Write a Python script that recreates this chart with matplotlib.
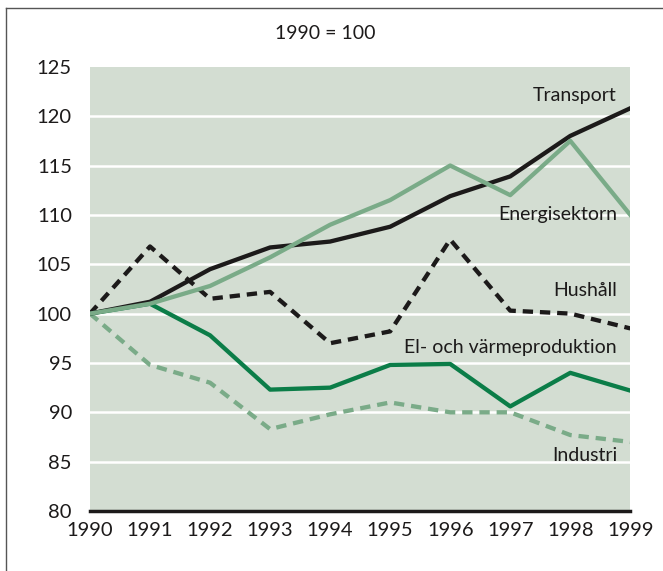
import matplotlib.pyplot as plt
from matplotlib.lines import Line2D

BG = "#d3ddd2"
BLACK = "#1c1a1a"
DARK_GREEN = "#0b7d48"
LIGHT_GREEN = "#7aab88"

years = [1990, 1991, 1992, 1993, 1994, 1995, 1996, 1997, 1998, 1999]
transport = [100, 101.2, 104.5, 106.7, 107.3, 108.8, 111.9, 113.9, 118.0, 120.8]
energisektorn = [100, 101.0, 102.8, 105.7, 109.0, 111.5, 115.0, 112.0, 117.5, 110.0]
hushall = [100, 106.8, 101.5, 102.2, 97.0, 98.2, 107.5, 100.3, 100.0, 98.5]
el_varme = [100, 101.0, 97.8, 92.3, 92.5, 94.8, 94.9, 90.6, 94.0, 92.2]
industri = [100, 94.8, 93.0, 88.3, 89.8, 91.0, 90.0, 90.0, 87.7, 87.0]

y_ticks = [80, 85, 90, 95, 100, 105, 110, 115, 120, 125]

plt.rcParams["font.family"] = ["Lato", "DejaVu Sans"]

fig = plt.figure(figsize=(6.63, 5.71), dpi=100, facecolor="white")
ax = fig.add_axes([0.1357, 0.105, 0.815, 0.778])
ax.set_facecolor(BG)

for v in y_ticks[1:-1]:
    ax.axhline(v, color="white", lw=1.8, zorder=1)

lw = 3.1
ax.plot(years, industri, color=LIGHT_GREEN, lw=lw, dashes=(2.4, 1.6), zorder=3)
ax.plot(years, hushall, color=BLACK, lw=lw, dashes=(2.4, 1.6), zorder=3)
ax.plot(years, el_varme, color=DARK_GREEN, lw=lw, zorder=4)
ax.plot(years, transport, color=BLACK, lw=lw, zorder=4)
ax.plot(years, energisektorn, color=LIGHT_GREEN, lw=lw, zorder=5)

ax.set_xlim(1990, 1999)
ax.set_ylim(80, 125)
ax.set_xticks(years)
ax.set_yticks(y_ticks)
ax.tick_params(length=0, labelsize=14.5, colors=BLACK)
ax.tick_params(axis="x", pad=8)
ax.tick_params(axis="y", pad=13)
for s in ["top", "right", "left"]:
    ax.spines[s].set_visible(False)
ax.spines["bottom"].set_color(BLACK)
ax.spines["bottom"].set_linewidth(2.5)
ax.spines["bottom"].set_zorder(6)

lab = dict(ha="right", va="center", fontsize=14, color=BLACK, zorder=7)
ax.text(1998.77, 122.1, "Transport", **lab)
ax.text(1998.78, 110.0, "Energisektorn", **lab)
ax.text(1998.78, 102.3, "Hushåll", **lab)
ax.text(1998.78, 96.6, "El- och värmeproduktion", **lab)
ax.text(1998.78, 85.6, "Industri", **lab)

fig.text(0.49, 0.942, "1990 = 100", ha="center", va="center", fontsize=14, color=BLACK)

# partial frame around the figure (top and left only)
fig.add_artist(Line2D([0.009, 1.0], [0.986, 0.986], color="#555555", lw=1.0))
fig.add_artist(Line2D([0.009, 0.009], [0.0, 0.986], color="#555555", lw=1.0))

fig.savefig("out.png", dpi=100, facecolor="white")
